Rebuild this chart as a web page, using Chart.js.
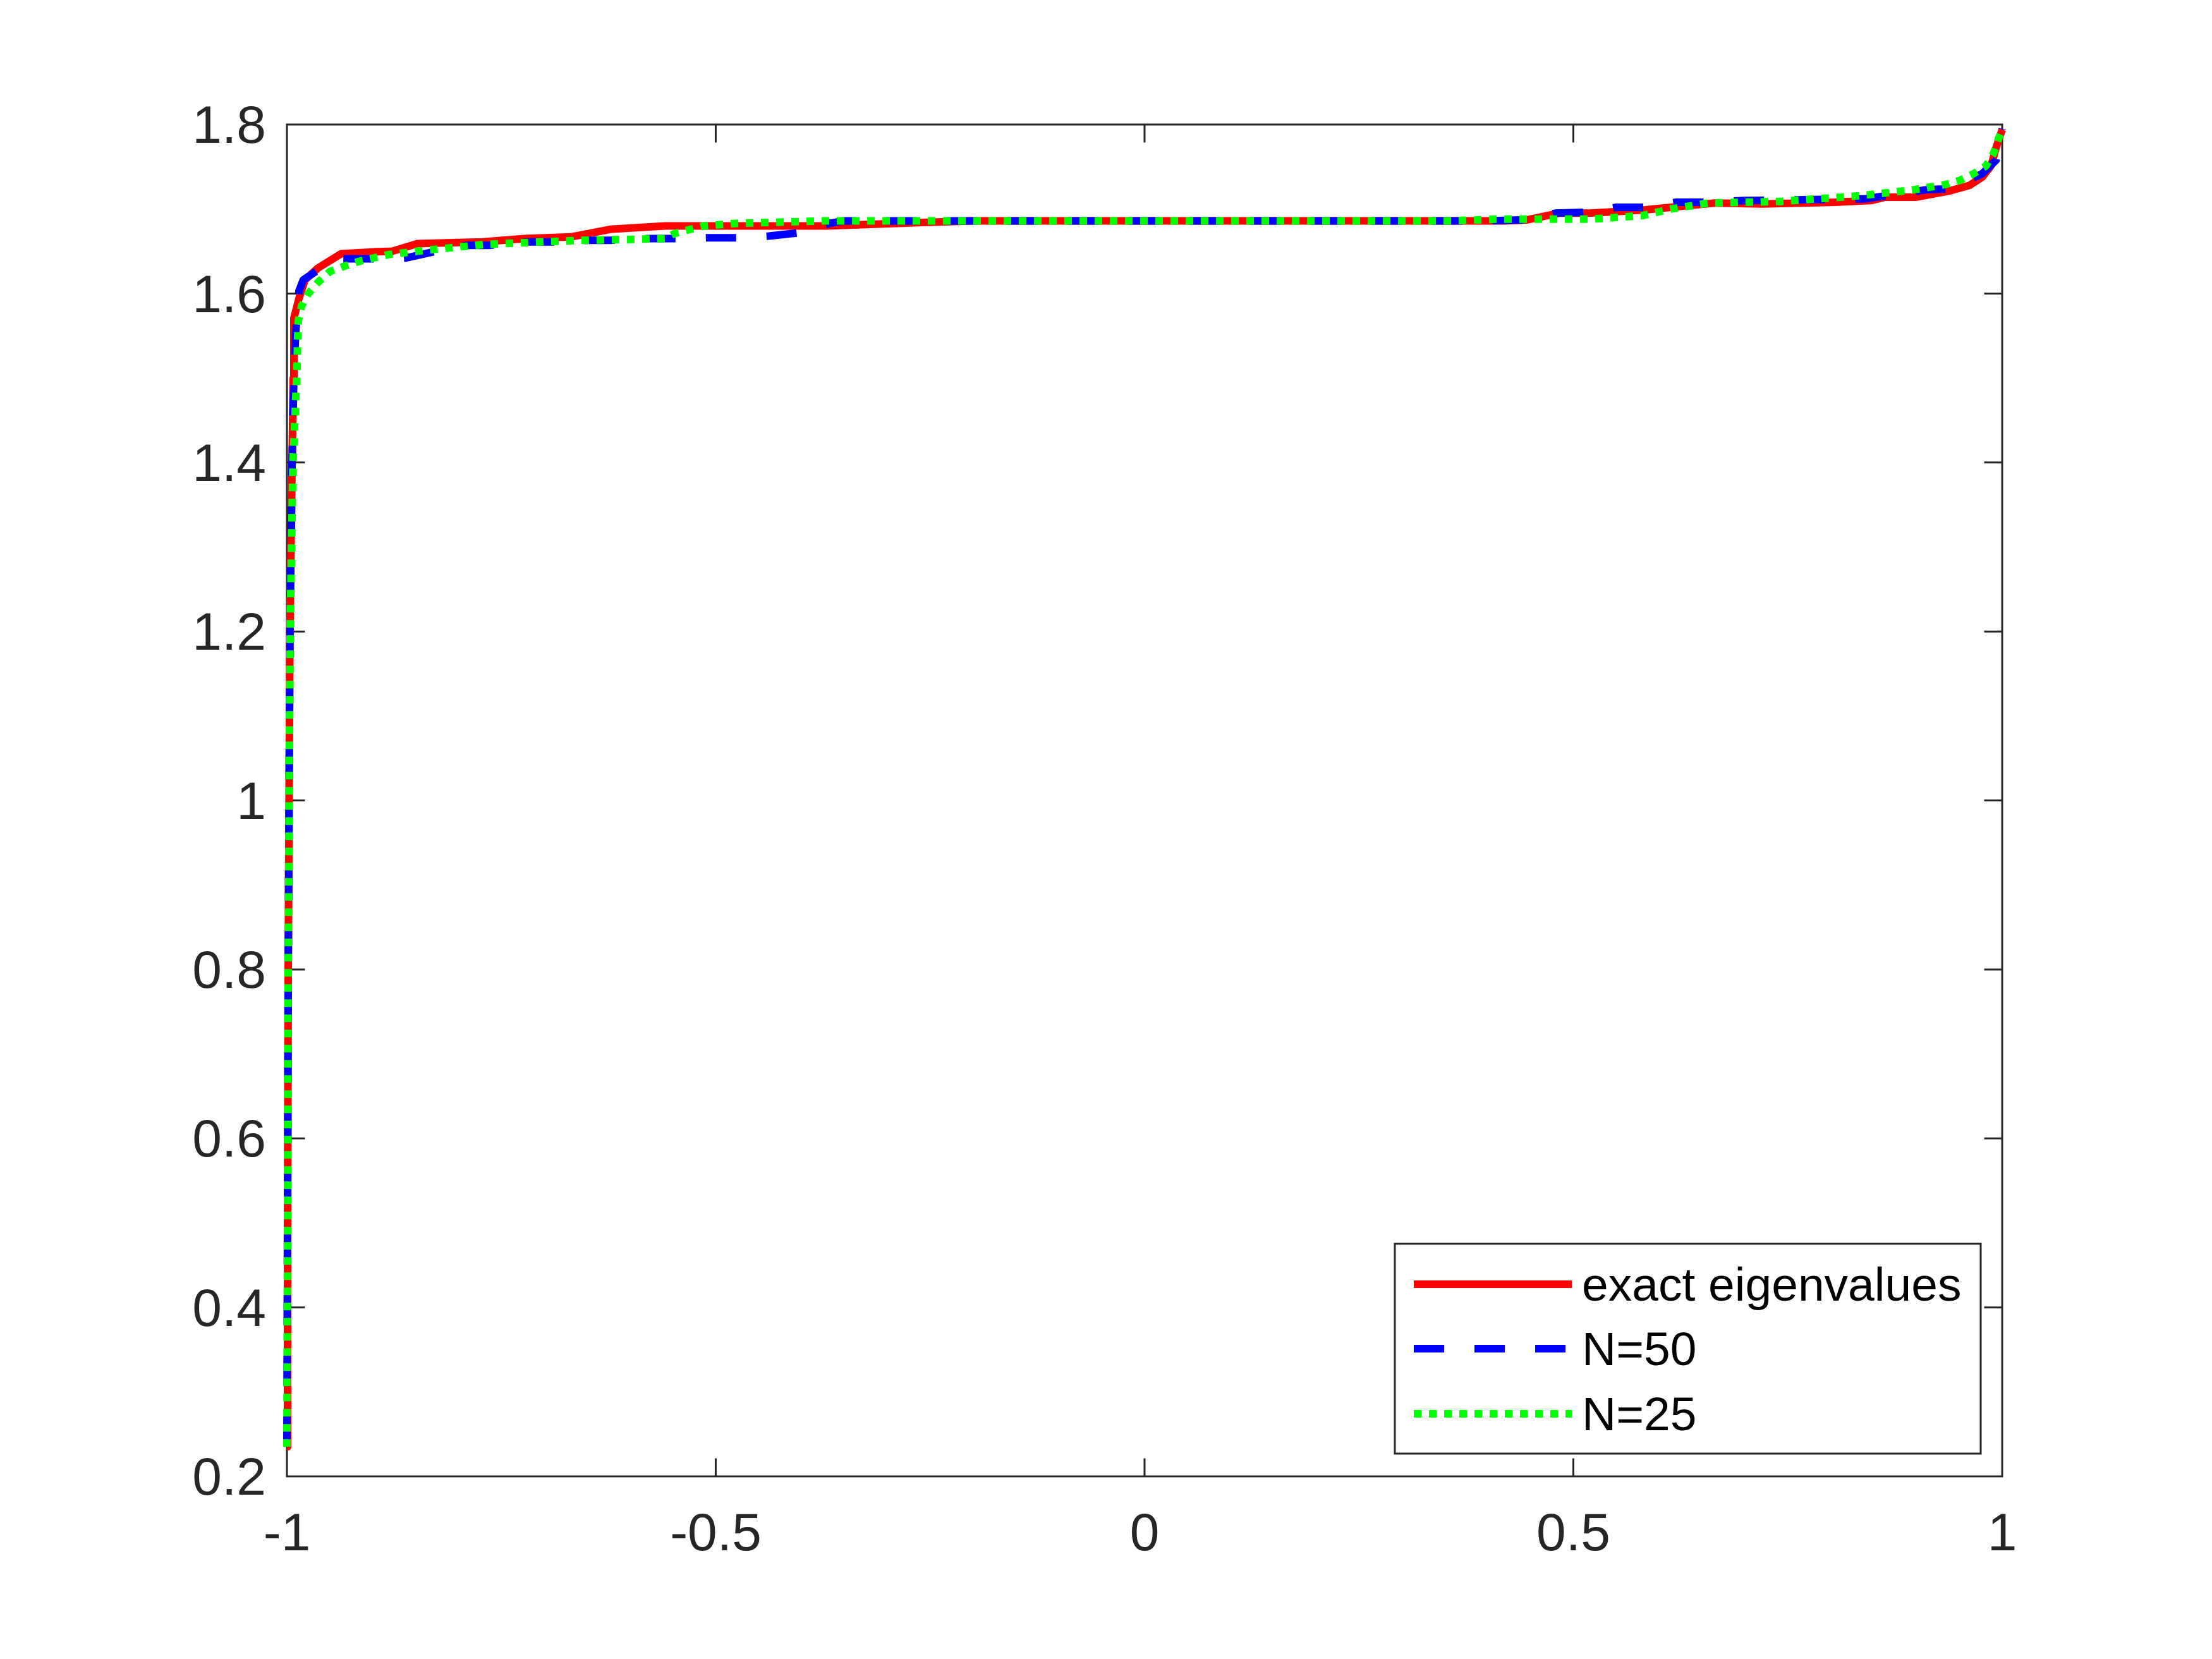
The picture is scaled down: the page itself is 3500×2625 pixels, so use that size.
<!DOCTYPE html>
<html>
<head>
<meta charset="utf-8">
<script src="https://cdn.jsdelivr.net/npm/chart.js@4.4.1/dist/chart.umd.min.js"></script>
<style>
html, body { margin: 0; padding: 0; background: #ffffff; }
#wrap { width: 3500px; height: 2625px; }
</style>
</head>
<body>
<div id="wrap"><canvas id="c" width="3500" height="2625"></canvas></div>
<script>
// ---------- data ----------
const seriesLabels = ['exact eigenvalues', 'N=50', 'N=25'];

const exactX = [-1.0000, -0.9993, -0.9985, -0.9975, -0.9965, -0.9940, -0.9926, -0.9919, -0.9860, -0.9790,
  -0.9640, -0.9370, -0.9040, -0.8770, -0.8480, -0.7720, -0.7230, -0.6690, -0.6230, -0.5590,
  -0.3710, -0.2580, -0.2000, 0.4200, 0.4450, 0.4830, 0.5170, 0.5510, 0.5840, 0.6230,
  0.6650, 0.7200, 0.8050, 0.8470, 0.8640, 0.9000, 0.9370, 0.9620, 0.9770, 0.9870,
  0.9930, 1.0000];
const exactY = [0.235, 0.50, 0.80, 1.00, 1.20, 1.40, 1.50, 1.571, 1.594, 1.616,
  1.630, 1.647, 1.649, 1.650, 1.659, 1.661, 1.665, 1.667, 1.676, 1.680,
  1.680, 1.684, 1.686, 1.686, 1.687, 1.695, 1.695, 1.697, 1.699, 1.703,
  1.707, 1.706, 1.708, 1.710, 1.714, 1.714, 1.721, 1.728, 1.738, 1.751,
  1.773, 1.794];

const n50X = [-1.0000, -0.9993, -0.9985, -0.9975, -0.9965, -0.9940, -0.9920, -0.9900, -0.9860, -0.9810,
  -0.9650, -0.9360, -0.9050, -0.8610, -0.8260, -0.7890, -0.7650, -0.7180, -0.6910, -0.6490,
  -0.6230, -0.5770, -0.5450, -0.5100, -0.4740, -0.4380, -0.4020, -0.3670, -0.3510, 0.4000,
  0.4400, 0.4790, 0.5130, 0.5500, 0.5840, 0.6200, 0.6560, 0.7000, 0.8400, 0.9130,
  0.9400, 0.9770, 0.9930, 1.0000];
const n50Y = [0.235, 0.50, 0.80, 1.00, 1.20, 1.40, 1.50, 1.55, 1.603, 1.616,
  1.627, 1.641, 1.641, 1.642, 1.650, 1.657, 1.657, 1.661, 1.661, 1.663,
  1.663, 1.665, 1.665, 1.666, 1.666, 1.668, 1.672, 1.683, 1.686, 1.686,
  1.687, 1.695, 1.696, 1.702, 1.702, 1.708, 1.708, 1.710, 1.712, 1.723,
  1.724, 1.742, 1.758, 1.795];

const n25X = [-1.0000, -0.9993, -0.9985, -0.9975, -0.9963, -0.9930, -0.9904, -0.9882, -0.9875, -0.9867,
  -0.9830, -0.9750, -0.9640, -0.9500, -0.9340, -0.9160, -0.8990, -0.8820, -0.8650, -0.8480,
  -0.8300, -0.7700, -0.7050, -0.6540, -0.6000, -0.5590, -0.5480, -0.5140, -0.4760, -0.3710,
  0.3600, 0.4100, 0.5200, 0.5800, 0.6140, 0.6570, 0.7420, 0.8260, 0.8640, 0.8980,
  0.9340, 0.9510, 0.9670, 0.9810, 0.9900, 0.9960, 1.0000];
const n25Y = [0.235, 0.50, 0.80, 1.00, 1.20, 1.40, 1.459, 1.514, 1.549, 1.568,
  1.585, 1.600, 1.613, 1.626, 1.632, 1.638, 1.642, 1.646, 1.648, 1.650,
  1.652, 1.658, 1.661, 1.663, 1.664, 1.665, 1.671, 1.680, 1.683, 1.686,
  1.686, 1.688, 1.688, 1.692, 1.700, 1.707, 1.709, 1.715, 1.719, 1.723,
  1.729, 1.734, 1.742, 1.751, 1.766, 1.784, 1.794];

const xTicks = [-1, -0.5, 0, 0.5, 1];
const xTickLabels = ['-1', '-0.5', '0', '0.5', '1'];
const yTicks = [0.2, 0.4, 0.6, 0.8, 1.0, 1.2, 1.4, 1.6, 1.8];
const yTickLabels = ['0.2', '0.4', '0.6', '0.8', '1', '1.2', '1.4', '1.6', '1.8'];

// ---------- helpers ----------
const toPts = (xs, ys) => xs.map((x, i) => ({ x: x, y: ys[i] }));
const AXIS_COLOR = '#262626';
const FONT = '"Liberation Sans", Arial, Helvetica, sans-serif';

const boxPlugin = {
  id: 'boxPlugin',
  beforeDatasetsDraw(chart) {
    const ctx = chart.ctx;
    const { left, right, top, bottom } = chart.chartArea;
    const xs = chart.scales.x, ys = chart.scales.y;
    const tl = 27;
    ctx.save();
    ctx.strokeStyle = AXIS_COLOR;
    ctx.lineWidth = 3;
    ctx.lineCap = 'square';
    ctx.beginPath();
    ctx.rect(left, top, right - left, bottom - top);
    xTicks.forEach(v => {
      const p = xs.getPixelForValue(v);
      ctx.moveTo(p, bottom); ctx.lineTo(p, bottom - tl);
      ctx.moveTo(p, top); ctx.lineTo(p, top + tl);
    });
    yTicks.forEach(v => {
      const p = ys.getPixelForValue(v);
      ctx.moveTo(left, p); ctx.lineTo(left + tl, p);
      ctx.moveTo(right, p); ctx.lineTo(right - tl, p);
    });
    ctx.stroke();
    ctx.restore();
  }
};

const legendPlugin = {
  id: 'legendPlugin',
  afterDraw(chart) {
    const ctx = chart.ctx;
    const bx = 2207, by = 1968, bw = 927, bh = 332;
    ctx.save();
    ctx.fillStyle = '#ffffff';
    ctx.fillRect(bx, by, bw, bh);
    ctx.strokeStyle = AXIS_COLOR;
    ctx.lineWidth = 3;
    ctx.strokeRect(bx, by, bw, bh);
    const rowY = [2032, 2134, 2237];
    ctx.font = '75px ' + FONT;
    ctx.textBaseline = 'middle';
    ctx.textAlign = 'left';
    chart.data.datasets.forEach((ds, i) => {
      const y = rowY[i];
      ctx.beginPath();
      ctx.strokeStyle = ds.borderColor;
      ctx.lineWidth = ds.borderWidth;
      ctx.setLineDash(ds.borderDash || []);
      ctx.lineDashOffset = 0;
      ctx.moveTo(2237, y);
      ctx.lineTo(2487, y);
      ctx.stroke();
      ctx.setLineDash([]);
      ctx.fillStyle = '#000000';
      ctx.fillText(ds.label, 2503, y + 5);
    });
    ctx.restore();
  }
};

const ctx = document.getElementById('c').getContext('2d');
new Chart(ctx, {
  type: 'line',
  data: {
    datasets: [
      { label: seriesLabels[0], data: toPts(exactX, exactY), borderColor: '#ff0000', borderWidth: 12,
        borderDash: [], order: 3 },
      { label: seriesLabels[1], data: toPts(n50X, n50Y), borderColor: '#0000ff', borderWidth: 12,
        borderDash: [48, 48], order: 2 },
      { label: seriesLabels[2], data: toPts(n25X, n25Y), borderColor: '#00ff00', borderWidth: 12,
        borderDash: [12, 12], order: 1 }
    ]
  },
  options: {
    responsive: false,
    animation: false,
    devicePixelRatio: 1,
    clip: false,
    layout: { padding: { top: 197, right: 332, left: 0, bottom: 0 } },
    elements: {
      point: { radius: 0, hoverRadius: 0 },
      line: { tension: 0, fill: false, borderCapStyle: 'butt', borderJoinStyle: 'round' }
    },
    plugins: { legend: { display: false }, tooltip: { enabled: false } },
    scales: {
      x: {
        type: 'linear', min: -1, max: 1,
        grid: { display: false, drawTicks: false },
        border: { display: false },
        afterFit(s) { s.height = 289; },
        afterBuildTicks(s) { s.ticks = xTicks.map(v => ({ value: v })); },
        ticks: {
          padding: 43, color: AXIS_COLOR, maxRotation: 0, autoSkip: false,
          font: { family: FONT, size: 84 },
          callback: (v) => { const i = xTicks.indexOf(v); return i >= 0 ? xTickLabels[i] : ''; }
        }
      },
      y: {
        type: 'linear', min: 0.2, max: 1.8,
        grid: { display: false, drawTicks: false },
        border: { display: false },
        afterFit(s) { s.width = 454; },
        afterBuildTicks(s) { s.ticks = yTicks.map(v => ({ value: v })); },
        ticks: {
          padding: 33, color: AXIS_COLOR, autoSkip: false, labelOffset: 6,
          font: { family: FONT, size: 84 },
          callback: (v) => {
            const i = yTicks.findIndex(t => Math.abs(t - v) < 1e-9);
            return i >= 0 ? yTickLabels[i] : '';
          }
        }
      }
    }
  },
  plugins: [boxPlugin, legendPlugin]
});
</script>
</body>
</html>
